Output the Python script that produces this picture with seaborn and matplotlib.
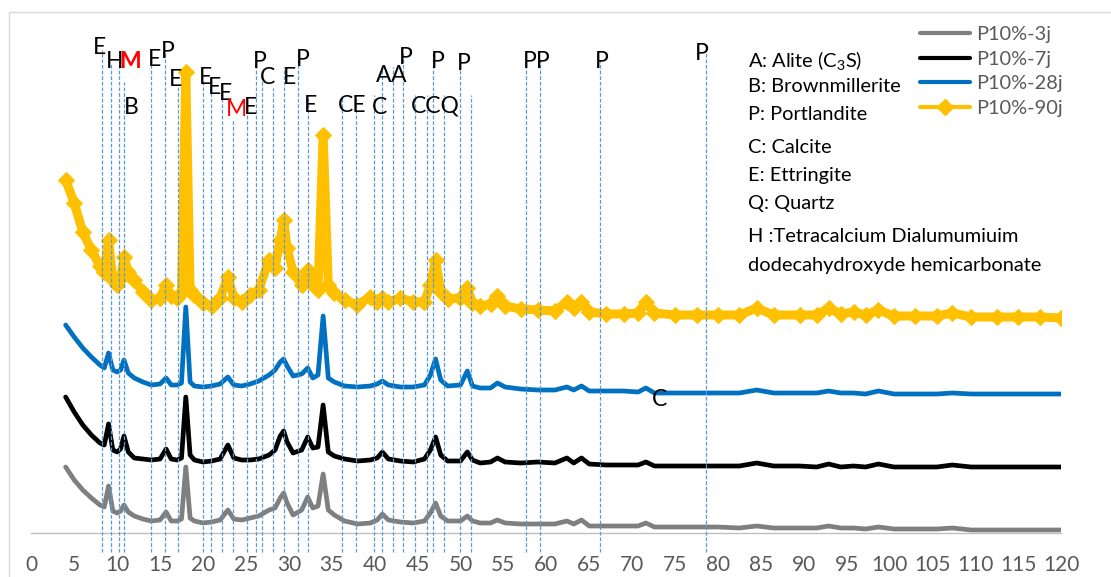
import matplotlib.pyplot as plt
import seaborn as sns
import numpy as np
import pandas as pd
from matplotlib.lines import Line2D
from matplotlib.patches import Rectangle

# 2-theta grid (deg) and offset intensities (a.u.)
two_theta = [
    4, 5, 6, 7, 8, 8.5, 9, 9.5, 10, 10.4,
    10.8, 11.3, 12, 13, 14, 15, 15.7, 16.3, 17, 17.5,
    18, 18.5, 19, 20, 21, 22, 22.9, 23.6, 24.5, 25.5,
    26.5, 27.7, 28.4, 29.0, 29.4, 29.8, 30.5, 31.5, 32.2, 32.8,
    33.4, 34, 34.6, 35.3, 36.5, 38, 39.5, 40.3, 40.9, 41.6,
    43, 44.5, 45.8, 46.5, 47.1, 47.7, 48.5, 50, 50.8, 51.4,
    52.3, 53.5, 54.3, 55.2, 57, 59, 61, 62.4, 63.2, 64.1,
    65, 67, 69, 70.7, 71.6, 72.6, 75, 77.5, 80, 82.5,
    84.5, 86.5, 89.5, 91.5, 92.9, 94.3, 95.8, 97.2, 98.7, 100.5,
    103, 105.5, 107.3, 109.5, 112.5, 115, 117.5, 120]

p10_3j = [
    73, 60, 50, 42, 35, 33, 54, 29, 27, 29,
    35, 28, 24, 21, 19, 20, 28, 19, 19, 21,
    73, 22, 19, 17, 18, 20, 30, 21, 20, 22,
    24, 30, 32, 42, 47, 37, 25, 30, 43, 32,
    34, 66, 30, 25, 19, 16, 17, 20, 26, 20,
    18, 17, 19, 27, 37, 24, 19, 19, 24, 19,
    17, 17, 20, 17, 16, 16, 16, 19, 16, 20,
    14, 14, 14, 14, 17, 13, 13, 13, 13, 12,
    14, 12, 12, 12, 14, 12, 12, 11, 13, 11,
    11, 11, 12, 10, 10, 10, 10, 10]

p10_7j = [
    143, 128, 115, 105, 97, 95, 116, 90, 88, 91,
    104, 88, 82, 81, 80, 81, 91, 81, 80, 82,
    143, 85, 80, 78, 79, 81, 95, 82, 80, 80,
    81, 85, 90, 104, 109, 98, 87, 90, 103, 92,
    93, 135, 88, 84, 81, 79, 80, 82, 88, 81,
    79, 78, 81, 90, 103, 85, 79, 79, 88, 80,
    77, 78, 82, 78, 77, 78, 77, 82, 77, 82,
    76, 75, 75, 75, 78, 74, 74, 74, 74, 74,
    77, 74, 74, 73, 76, 73, 74, 73, 76, 73,
    73, 73, 75, 73, 73, 73, 73, 73]

p10_28j = [
    215, 203, 192, 183, 175, 172, 187, 170, 168, 170,
    180, 167, 162, 158, 155, 156, 162, 155, 155, 157,
    233, 158, 154, 153, 154, 156, 163, 155, 154, 156,
    159, 165, 170, 178, 181, 174, 164, 166, 172, 162,
    165, 224, 162, 158, 154, 153, 154, 156, 159, 155,
    153, 153, 155, 165, 181, 160, 154, 155, 169, 154,
    152, 152, 157, 153, 151, 150, 150, 153, 150, 154,
    149, 149, 149, 148, 152, 147, 147, 147, 147, 147,
    150, 147, 147, 147, 149, 147, 147, 146, 149, 146,
    146, 146, 147, 146, 146, 146, 146, 146]

p10_90j = [
    360, 337, 308, 290, 274, 268, 300, 260, 255, 262,
    283, 268, 260, 248, 240, 242, 255, 244, 242, 248,
    468, 250, 245, 237, 234, 242, 263, 242, 238, 245,
    250, 280, 272, 300, 320, 292, 268, 255, 270, 255,
    250, 405, 255, 247, 240, 235, 243, 238, 242, 238,
    242, 238, 238, 255, 280, 248, 241, 242, 252, 237,
    234, 236, 244, 234, 231, 230, 229, 238, 232, 238,
    228, 226, 226, 227, 238, 227, 225, 225, 225, 225,
    232, 225, 225, 225, 232, 226, 228, 225, 230, 224,
    224, 224, 227, 223, 223, 223, 223, 222]

series_names = ['P10%-3j', 'P10%-7j', 'P10%-28j', 'P10%-90j']

# phase reference lines (2-theta) and how high each one reaches
ref_lines = [8.2, 9.25, 10.22, 10.8, 13.94, 15.57, 17.06, 19.97, 20.9, 22.25,
             23.46, 25.09, 26.18, 26.84, 28.19, 29.47, 31.1, 32.2, 36.16, 37.83,
             39.92, 40.82, 42.17, 43.34, 44.7, 46.13, 46.76, 48.08, 49.94, 51.22,
             57.6, 59.26, 66.25, 78.6]
ref_tops = [490, 477, 477, 458, 477, 487, 455, 460, 450, 447,
            420, 433, 480, 467, 452, 473, 488, 445, 443, 443,
            445, 473, 473, 487, 445, 445, 488, 445, 483, 445,
            480, 480, 480, 487]

# peak labels
peak_labels = ['E', 'H', 'M', 'B', 'E', 'P', 'E', 'E', 'E', 'E',
               'M', 'E', 'P', 'C', 'E', 'P', 'E', 'CE', 'C', 'A',
               'A', 'P', 'CCQ', 'P', 'P', 'PP', 'P', 'P', 'C']
label_x = [7.92, 9.75, 11.5, 11.7, 14.41, 15.96, 16.82, 20.35, 21.4, 22.65,
           23.93, 25.56, 26.64, 27.52, 30.06, 31.62, 32.47, 37.33, 40.54, 41.09,
           42.75, 43.62, 47.03, 47.34, 50.41, 58.88, 66.45, 78.1, 73.24]
label_y = [493, 478, 478, 433, 480, 488, 460, 462, 453, 447,
           430, 433, 478, 462, 463, 480, 435, 435, 433, 465,
           465, 483, 434, 478, 477, 478, 478, 487, 140]

phase_key = ['A: Alite (C$_3$S)', 'B: Brownmillerite', 'P: Portlandite',
             'C: Calcite', 'E: Ettringite', 'Q: Quartz',
             'H :Tetracalcium Dialumumiuim', 'dodecahydroxyde hemicarbonate']
phase_key_y = [60, 86, 115, 147, 176, 204, 236, 266]

W, H = 1111, 577

sns.set_style('white')
plt.rcParams['font.family'] = ['Lato', 'DejaVu Sans']
plt.rcParams['mathtext.fontset'] = 'custom'
plt.rcParams['mathtext.rm'] = 'Lato'
plt.rcParams['mathtext.it'] = 'Lato:italic'

fig = plt.figure(figsize=(W / 100, H / 100), dpi=100)
ax = fig.add_axes([31.3 / W, 44 / H, 1030 / W, 523 / H])

df = pd.DataFrame({'two_theta': two_theta, 'P10%-3j': p10_3j, 'P10%-7j': p10_7j,
                   'P10%-28j': p10_28j, 'P10%-90j': p10_90j})
colors = {'P10%-3j': '#7f7f7f', 'P10%-7j': '#000000', 'P10%-28j': '#0070c0', 'P10%-90j': '#ffc000'}

for name in series_names[:3]:
    sns.lineplot(data=df, x='two_theta', y=name, color=colors[name], lw=3.4,
                 estimator=None, ax=ax, legend=False)
sns.lineplot(data=df, x='two_theta', y='P10%-90j', color=colors['P10%-90j'], lw=6.5,
             marker='D', ms=8, mec=colors['P10%-90j'], estimator=None, ax=ax, legend=False)

ax.vlines(ref_lines, -12, ref_tops, colors='#5b9bd5', linestyles=(0, (3, 1.5)),
          lw=0.9, clip_on=False, zorder=5)

for i, (t, x, y) in enumerate(zip(peak_labels, label_x, label_y)):
    ax.text(x, y, t, ha='center', va='center', fontsize=16.5, zorder=6,
            color='red' if t == 'M' else 'black',
            fontweight='bold' if i == 2 else 'normal')

ax.set_xlim(0, 120)
ax.set_ylim(7, 530)
ax.set_xticks(range(0, 121, 5))
ax.set_yticks([])
ax.set_xlabel('')
ax.set_ylabel('')
for s in ['left', 'right', 'top']:
    ax.spines[s].set_visible(False)
ax.spines['bottom'].set_color('#bfbfbf')
ax.spines['bottom'].set_linewidth(1)
ax.tick_params(axis='x', direction='out', length=5, width=1, color='#bfbfbf',
               labelsize=15, labelcolor='#595959', pad=11)

handles = [Line2D([], [], color=colors[n], lw=3) for n in series_names[:3]]
handles.append(Line2D([], [], color=colors['P10%-90j'], lw=3, marker='D', ms=8))
ax.legend(handles, series_names, loc='upper left', bbox_to_anchor=(920 / W, 1 - 26 / H),
          bbox_transform=fig.transFigure, frameon=False, fontsize=14.4, labelcolor='#595959',
          handlelength=2.5, handletextpad=0.3, labelspacing=0.38, borderpad=0, borderaxespad=0)

for s, y in zip(phase_key, phase_key_y):
    fig.text(748 / W, 1 - y / H, s, fontsize=14.4, va='center', ha='left', color='black')

# chart area border
fig.add_artist(Rectangle((9 / W, -0.1), 1.5, 1.1 - 12 / H, fill=False,
                         edgecolor='#d9d9d9', lw=1, transform=fig.transFigure))

fig.savefig('out.png', dpi=100)
